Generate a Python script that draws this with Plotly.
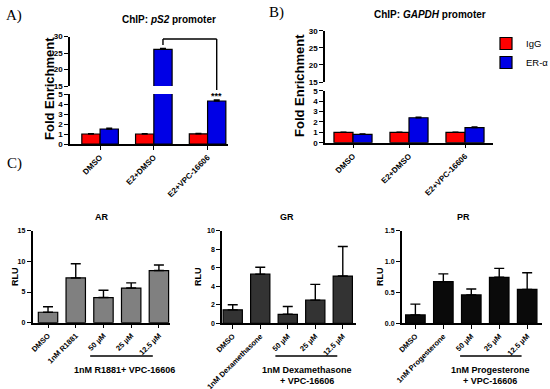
import plotly.graph_objects as go

# ---------------- data ----------------
chip_cats = ["DMSO", "E2+DMSO", "E2+VPC-16606"]
ps2_igg = [1.0, 1.0, 1.02]
ps2_igg_err = [0.03, 0.03, 0.04]
ps2_er = [1.5, 26.1, 4.3]
ps2_er_err = [0.07, 0.25, 0.1]
gapdh_igg = [1.0, 1.0, 1.0]
gapdh_igg_err = [0.02, 0.02, 0.02]
gapdh_er = [0.8, 2.4, 1.45]
gapdh_er_err = [0.03, 0.04, 0.06]

ar_cats = ["DMSO", "1nM R1881", "50 µM", "25 µM", "12.5 µM"]
ar_mean = [1.7, 7.3, 4.1, 5.65, 8.5]
ar_err = [0.9, 2.3, 1.2, 0.85, 0.9]

gr_cats = ["DMSO", "1nM Dexamethasone", "50 µM", "25 µM", "12.5 µM"]
gr_mean = [1.45, 5.3, 0.97, 2.5, 5.1]
gr_err = [0.55, 0.75, 0.85, 1.7, 3.2]

pr_cats = ["DMSO", "1nM Progesterone", "50 µM", "25 µM", "12.5 µM"]
pr_mean = [0.135, 0.675, 0.46, 0.745, 0.55]
pr_err = [0.175, 0.125, 0.095, 0.145, 0.27]

W, H = 550, 389
FONT = "Liberation Sans"
RED = "#FF0000"
BLUE = "#0000E6"


def px(x):
    return x / W


def py(y):
    return 1 - y / H


fig = go.Figure()

GROUP_W = 0.34


def add_bar(xa, ya, vals, errs, color, offset, width, name=None, legend=False, cap=3):
    n = len(vals)
    fig.add_trace(go.Bar(
        x=list(range(n)), y=vals, xaxis=xa, yaxis=ya,
        width=[width] * n, offset=[offset] * n,
        marker=dict(color=color, line=dict(color="black", width=1.2)),
        error_y=dict(type="data", array=errs, arrayminus=[0] * n, symmetric=False,
                     color="black", thickness=1.4, width=cap),
        name=name, showlegend=legend, legendgroup=name,
    ))


# Panel A (x, y lower, y2 upper)
for ya in ["y", "y2"]:
    add_bar("x", ya, ps2_igg, ps2_igg_err, RED, -GROUP_W, GROUP_W, "IgG")
    add_bar("x", ya, ps2_er, ps2_er_err, BLUE, 0, GROUP_W, "ER-α")
# Panel B (x2, y3 lower, y4 upper)
for ya, leg in [("y3", True), ("y4", False)]:
    add_bar("x2", ya, gapdh_igg, gapdh_igg_err, RED, -GROUP_W, GROUP_W, "IgG", leg)
    add_bar("x2", ya, gapdh_er, gapdh_er_err, BLUE, 0, GROUP_W, "ER-α", leg)
# Panel C
add_bar("x3", "y5", ar_mean, ar_err, "#808080", -0.35, 0.7, cap=5)
add_bar("x4", "y6", gr_mean, gr_err, "#333333", -0.35, 0.7, cap=5)
add_bar("x5", "y7", pr_mean, pr_err, "#0a0a0a", -0.35, 0.7, cap=5)

axis_common = dict(showline=True, linecolor="black", linewidth=1.5, ticks="outside",
                   tickcolor="black", tickwidth=1.2, ticklen=4, showgrid=False,
                   zeroline=False, fixedrange=True, automargin=False)


def xax(domain, rng, cats, anchor, size):
    return dict(domain=domain, range=rng, anchor=anchor, tickmode="array",
                tickvals=list(range(len(cats))), ticktext=cats, tickangle=-45,
                tickfont=dict(family=FONT, size=size, color="black", weight="bold"),
                **axis_common)


def yax(domain, rng, dtick, anchor, size, fmt=None):
    d = dict(domain=domain, range=rng, dtick=dtick, anchor=anchor, tick0=rng[0],
             tickfont=dict(family=FONT, size=size, color="black", weight="bold"),
             **axis_common)
    if fmt:
        d["tickformat"] = fmt
    return d


fig.update_layout(
    width=W, height=H, margin=dict(l=0, r=0, t=0, b=0, autoexpand=False),
    paper_bgcolor="white", plot_bgcolor="white",
    barmode="overlay",
    font=dict(family=FONT, color="black"),
    xaxis=xax([px(70), px(228)], [-0.56, 2.38], chip_cats, "y", 8),
    yaxis=yax([py(144), py(94)], [0, 5], 1, "x", 8),
    yaxis2=yax([py(86), py(36.5)], [15, 30], 5, "x", 8),
    xaxis2=xax([px(325), px(493)], [-0.5, 2.5], chip_cats, "y3", 8),
    yaxis3=yax([py(142.7), py(90.7)], [0, 5], 1, "x2", 8),
    yaxis4=yax([py(82), py(30.7)], [15, 30], 5, "x2", 8),
    xaxis3=xax([px(32.5), px(170)], [-0.56, 4.4], ar_cats, "y5", 7.5),
    yaxis5=yax([py(322.7), py(230.7)], [0, 15], 5, "x3", 7),
    xaxis4=xax([px(222), px(356)], [-0.39, 4.48], gr_cats, "y6", 7.5),
    yaxis6=yax([py(323.3), py(230.7)], [0, 10], 2, "x4", 7),
    xaxis5=xax([px(401.7), px(541.7)], [-0.49, 4.52], pr_cats, "y7", 7.5),
    yaxis7=yax([py(323.3), py(230.7)], [0, 1.5], 0.5, "x5", 7, ".1f"),
    legend=dict(x=px(486), y=py(29), xanchor="left", yanchor="top",
                font=dict(family=FONT, size=9.5, color="black"),
                bgcolor="rgba(0,0,0,0)", tracegroupgap=0, itemwidth=30),
)

ann = []


def text(x, y, s, size, xref="paper", yref="paper", angle=0, family=FONT, bold=True):
    ann.append(dict(x=x, y=y, xref=xref, yref=yref, text=s, showarrow=False,
                    textangle=angle, xanchor="center", yanchor="middle",
                    font=dict(family=family, size=size, color="black",
                              weight="bold" if bold else "normal")))


# panel labels
text(px(14), py(15), "A)", 15, family="Liberation Serif", bold=False)
text(px(276), py(13), "B)", 15, family="Liberation Serif", bold=False)
text(px(14), py(163), "C)", 15, family="Liberation Serif", bold=False)
# titles
text(px(169), py(19), "ChIP: <i>pS2</i> promoter", 10)
text(px(430), py(14), "ChIP: <i>GAPDH</i> promoter", 10)
text(px(101.7), py(216.5), "AR", 9)
text(px(286.7), py(216.5), "GR", 9)
text(px(463), py(216.5), "PR", 9)
# y titles
text(px(49), py(89), "Fold Enrichment", 13, angle=-90)
text(px(300), py(86), "Fold Enrichment", 13, angle=-90)
text(px(15), py(277), "RLU", 9, angle=-90)
text(px(198), py(277), "RLU", 9, angle=-90)
text(px(380), py(277), "RLU", 9, angle=-90)
# group labels in C
text(px(124), py(370), "1nM R1881+ VPC-16606", 9)
text(px(307), py(370), "1nM Dexamethasone", 9)
text(px(307), py(380.5), "+ VPC-16606", 9)
text(px(490), py(370), "1nM Progesterone", 9)
text(px(490), py(380.5), "+ VPC-16606", 9)
# significance
text(2 + GROUP_W / 2, py(96), "***", 9, xref="x")

fig.update_layout(annotations=ann)

shapes = []
ln = dict(color="black", width=1.4)
# bracket between E2+DMSO and E2+VPC ER bars (panel A)
bx0 = 1 + GROUP_W / 2
bx1 = 2 + GROUP_W / 2
shapes.append(dict(type="line", xref="x", yref="paper", x0=bx0, x1=bx1, y0=py(39), y1=py(39), line=ln))
shapes.append(dict(type="line", xref="x", yref="paper", x0=bx0, x1=bx0, y0=py(39), y1=py(45), line=ln))
shapes.append(dict(type="line", xref="x", yref="paper", x0=bx1, x1=bx1, y0=py(39), y1=py(90), line=ln))
# underlines in C
shapes.append(dict(type="line", xref="x3", yref="paper", x0=1.52, x1=3.78, y0=py(356), y1=py(356), line=dict(color="black", width=1.5)))
shapes.append(dict(type="line", xref="x4", yref="paper", x0=1.55, x1=3.8, y0=py(356), y1=py(356), line=dict(color="black", width=1.5)))
shapes.append(dict(type="line", xref="x5", yref="paper", x0=1.6, x1=3.8, y0=py(356), y1=py(356), line=dict(color="black", width=1.5)))
fig.update_layout(shapes=shapes)

fig.write_html("out.html", config={"displayModeBar": False},
               post_script="document.body.style.margin='0';document.body.style.overflow='hidden';")
